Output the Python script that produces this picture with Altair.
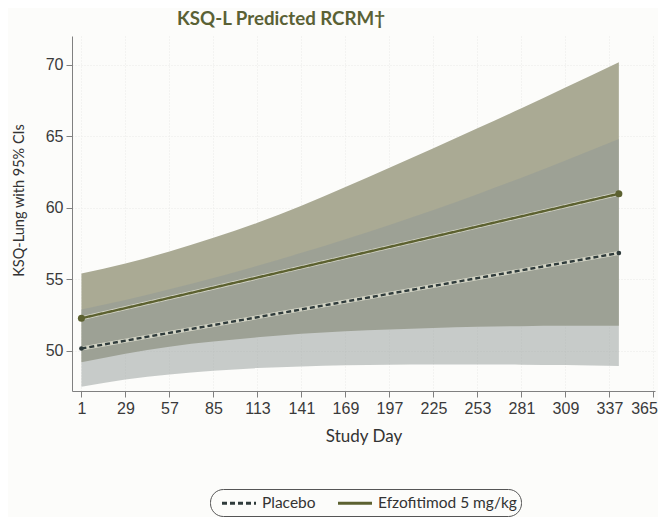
import altair as alt
import pandas as pd

# ---- data ----
band_days = [1, 29, 57, 85, 113, 141, 169, 197, 225, 253, 281, 309, 343]
efz_upper = [55.4, 56.1, 56.95, 57.9, 58.95, 60.15, 61.45, 62.8, 64.15, 65.55, 66.95, 68.4, 70.17]
efz_lower = [49.2, 49.8, 50.3, 50.65, 50.95, 51.2, 51.38, 51.5, 51.6, 51.68, 51.73, 51.75, 51.75]
pbo_upper = [52.9, 53.55, 54.3, 55.1, 55.95, 56.85, 57.8, 58.8, 59.85, 60.95, 62.1, 63.3, 64.8]
pbo_lower = [47.5, 48.0, 48.35, 48.62, 48.8, 48.92, 49.0, 49.04, 49.06, 49.06, 49.04, 49.01, 48.95]

line_days = [1, 343]
efz_mean = [52.28, 60.98]
pbo_mean = [50.17, 56.84]

groups = ["Placebo", "Efzofitimod 5 mg/kg"]
x_ticks = [1, 29, 57, 85, 113, 141, 169, 197, 225, 253, 281, 309, 337, 365]
y_ticks = [50, 55, 60, 65, 70]

# ---- tables ----
bands = pd.DataFrame({
    "day": band_days * 2,
    "lo": efz_lower + pbo_lower,
    "hi": efz_upper + pbo_upper,
    "group": [groups[1]] * len(band_days) + [groups[0]] * len(band_days),
})
lines = pd.DataFrame({
    "day": line_days * 2,
    "value": pbo_mean + efz_mean,
    "group": [groups[0]] * 2 + [groups[1]] * 2,
})

x_scale = alt.Scale(domain=[-5, 366], nice=False, zero=False)
y_scale = alt.Scale(domain=[47.2, 72], nice=False, zero=False)

x_enc = alt.X("day:Q", scale=x_scale,
              axis=alt.Axis(values=x_ticks, title="Study Day", titleFont="Lato",
                            titleFontSize=17, titleFontWeight="normal", titleColor="#333333",
                            titlePadding=12, labelFlush=5, labelFlushOffset=4))
y_axis = alt.Axis(values=y_ticks, title="KSQ-Lung with 95% CIs", titleFont="Lato",
                  titleFontSize=14.5, titleFontWeight="normal", titleColor="#333333",
                  titlePadding=19, titleY=164)

efz_band = alt.Chart(bands).transform_filter(alt.datum.group == groups[1]).mark_area(
    color="#aaaa94", opacity=1, interpolate="monotone"
).encode(x=x_enc, y=alt.Y("lo:Q", scale=y_scale, axis=y_axis), y2="hi:Q")

pbo_band = alt.Chart(bands).transform_filter(alt.datum.group == groups[0]).mark_area(
    color="#919a96", opacity=0.49, interpolate="monotone"
).encode(x="day:Q", y="lo:Q", y2="hi:Q")

halo = alt.Chart(lines).mark_line(color="#dcdccc", strokeWidth=4, opacity=0.85).encode(
    x="day:Q", y="value:Q", detail="group:N"
)

color_scale = alt.Scale(domain=groups, range=["#2f3b3b", "#5c6130"])
dash_scale = alt.Scale(domain=groups, range=[[5, 3], [1, 0]])

legend_opts = dict(title=None, orient="none", legendX=138, legendY=453,
                   direction="horizontal", symbolType="M-2,0H2",
                   symbolSize=289, symbolStrokeWidth=3, symbolOffset=15,
                   labelOffset=13, labelFont="Lato", labelFontSize=15.5,
                   labelColor="#333333", strokeColor="#555555", cornerRadius=13,
                   padding=4, columnPadding=14, fillColor="#fcfcfa")

mean_lines = alt.Chart(lines).mark_line(strokeWidth=2.4).encode(
    x="day:Q",
    y="value:Q",
    color=alt.Color("group:N", scale=color_scale, legend=alt.Legend(**legend_opts)),
    strokeDash=alt.StrokeDash("group:N", scale=dash_scale, legend=alt.Legend(**legend_opts)),
)

pbo_dots = alt.Chart(lines).transform_filter(alt.datum.group == groups[0]).mark_point(
    filled=True, opacity=1, color="#2f3b3b", size=22
).encode(x="day:Q", y="value:Q")

efz_dots = alt.Chart(lines).transform_filter(alt.datum.group == groups[1]).mark_point(
    filled=True, opacity=1, color="#5c6130", size=50
).encode(x="day:Q", y="value:Q")

chart = alt.layer(efz_band, pbo_band, halo, mean_lines, pbo_dots, efz_dots).properties(
    width=583,
    height=355,
    autosize=alt.AutoSizeParams(type="none"),
    padding={"left": 64, "top": 28, "right": 3, "bottom": 126},
    background="#fcfcfa",
    title=alt.TitleParams("KSQ-L Predicted RCRM†", anchor="start", frame="group", dx=105,
                          dy=-3, font="Lato", fontSize=18.7,
                          fontWeight="bold", color="#5a6135"),
).configure_view(stroke=None).configure_axis(
    domainColor="#808080", tickColor="#808080", tickSize=6, labelFont="Liberation Sans",
    labelFontSize=16, labelColor="#3a3a3a", labelPadding=3,
    grid=True, gridColor="#ebebe8", gridDash=[1, 2], gridWidth=1,
)

chart.save("out.html", embed_options={"renderer": "svg", "actions": False})
